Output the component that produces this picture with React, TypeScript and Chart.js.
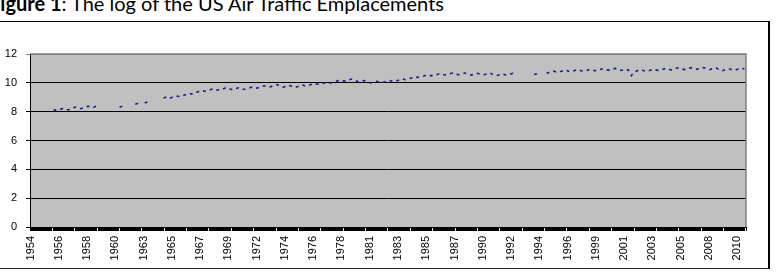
import React, { useEffect, useRef } from 'react';
import { Chart, registerables } from 'chart.js';

Chart.register(...registerables);

// ---- data ----
const START_YEAR = 1954;
const MONTH_COUNT = 684; // Jan 1954 .. Dec 2010, one category per month
const LABEL_EVERY = 27; // a year label every 27 months

const tickYears = [
  '1954', '1956', '1958', '1960', '1963', '1965', '1967', '1969', '1972',
  '1974', '1976', '1978', '1981', '1983', '1985', '1987', '1990', '1992',
  '1994', '1996', '1999', '2001', '2003', '2005', '2008', '2010',
];

const yMin = 0;
const yMax = 12;
const yStep = 2;

// log of US air traffic enplanements, quarterly (Q1..Q4)
const quarterlyLog: (number | null)[] = [
  null, null, null, null, // 1954
  null, null, null, 8.15, // 1955
  8.08, 8.15, 8.22, 8.12, // 1956
  8.15, 8.25, 8.32, 8.22, // 1957
  8.22, 8.3, 8.38, 8.28, // 1958
  8.32, 8.42, null, null, // 1959
  null, null, null, null, // 1960
  8.3, 8.38, null, null, // 1961
  null, 8.52, 8.6, null, // 1962
  8.6, 8.68, null, null, // 1963
  null, null, 8.95, 9.02, // 1964
  8.92, 9.02, 9.1, 9.05, // 1965
  9.1, 9.18, 9.28, 9.22, // 1966
  9.3, 9.38, 9.47, 9.42, // 1967
  9.45, 9.53, 9.6, 9.5, // 1968
  9.5, 9.58, 9.68, 9.6, // 1969
  9.52, 9.6, 9.66, 9.55, // 1970
  9.55, 9.62, 9.7, 9.62, // 1971
  9.65, 9.72, 9.8, 9.74, // 1972
  9.72, 9.8, 9.88, 9.8, // 1973
  9.7, 9.76, 9.84, 9.74, // 1974
  9.68, 9.76, 9.86, 9.8, // 1975
  9.8, 9.88, 9.96, 9.9, // 1976
  9.92, 9.98, 10.06, 10.0, // 1977
  10.02, 10.1, 10.2, 10.15, // 1978
  10.12, 10.2, 10.26, 10.16, // 1979
  10.08, 10.12, 10.16, 10.04, // 1980
  10.0, 10.06, 10.1, 10.02, // 1981
  10.04, 10.1, 10.16, 10.1, // 1982
  10.12, 10.2, 10.28, 10.22, // 1983
  10.26, 10.34, 10.44, 10.38, // 1984
  10.4, 10.48, 10.56, 10.5, // 1985
  10.5, 10.56, 10.64, 10.56, // 1986
  10.56, 10.62, 10.68, 10.6, // 1987
  10.56, 10.62, 10.68, 10.6, // 1988
  10.54, 10.6, 10.66, 10.58, // 1989
  10.56, 10.62, 10.68, 10.56, // 1990
  10.5, 10.56, 10.62, 10.54, // 1991
  10.56, 10.64, 10.72, null, // 1992
  null, null, null, null, // 1993
  10.58, 10.64, null, null, // 1994
  10.66, 10.74, 10.82, 10.76, // 1995
  10.74, 10.82, 10.9, 10.8, // 1996
  10.78, 10.86, 10.92, 10.84, // 1997
  10.8, 10.88, 10.94, 10.86, // 1998
  10.84, 10.92, 10.98, 10.9, // 1999
  10.88, 10.96, 11.0, 10.92, // 2000
  10.86, 10.94, 10.9, 10.5, // 2001
  10.76, 10.86, 10.92, 10.84, // 2002
  10.8, 10.88, 10.94, 10.88, // 2003
  10.86, 10.94, 11.0, 10.92, // 2004
  10.9, 10.98, 11.04, 10.96, // 2005
  10.92, 11.0, 11.05, 10.96, // 2006
  10.94, 11.02, 11.06, 10.98, // 2007
  10.92, 11.0, 11.04, 10.9, // 2008
  10.84, 10.92, 10.98, 10.9, // 2009
  10.88, 10.96, 11.02, 10.96, // 2010
];

const monthLabels = Array.from(
  { length: MONTH_COUNT },
  (_, i) => `${START_YEAR + Math.floor(i / 12)}-${String((i % 12) + 1).padStart(2, '0')}`
);

// each quarterly value sits on the middle month of its quarter
const points = quarterlyLog.map((v, q) => ({ x: monthLabels[q * 3 + 1], y: v }));

const AXIS_FONT = { family: "'Liberation Sans', Arial, sans-serif", size: 11 };

export default function App() {
  const ref = useRef<HTMLCanvasElement>(null);

  useEffect(() => {
    if (!ref.current) return;
    const plotFrame = {
      id: 'plotFrame',
      beforeDraw(chart: any) {
        const { ctx, chartArea: a } = chart;
        ctx.save();
        ctx.fillStyle = '#C0C0C0';
        ctx.fillRect(a.left, a.top, a.right - a.left, a.bottom - a.top);
        ctx.restore();
      },
      afterDraw(chart: any) {
        const { ctx, chartArea: a } = chart;
        ctx.save();
        ctx.strokeStyle = '#808080';
        ctx.lineWidth = 1.5;
        ctx.beginPath();
        ctx.moveTo(a.left, a.top);
        ctx.lineTo(a.right, a.top);
        ctx.lineTo(a.right, a.bottom);
        ctx.stroke();
        ctx.restore();
      },
    };

    const chart = new Chart(ref.current, {
      type: 'line',
      data: {
        labels: monthLabels,
        datasets: [
          {
            data: points as any,
            borderColor: '#1c1c84',
            borderWidth: 1.6,
            borderDash: [3, 4],
            pointRadius: 0,
            fill: false,
            tension: 0,
          },
        ],
      },
      options: {
        responsive: false,
        maintainAspectRatio: false,
        animation: false,
        layout: { padding: { left: 0, right: 20, top: 32, bottom: 0 } },
        plugins: {
          legend: { display: false },
          tooltip: { enabled: false },
          title: { display: false },
        },
        scales: {
          x: {
            type: 'category',
            offset: true,
            grid: {
              display: true,
              drawOnChartArea: false,
              drawTicks: true,
              tickLength: 4,
              color: '#000',
              lineWidth: 1,
              offset: true,
            },
            border: { display: true, color: '#000', width: 1 },
            ticks: {
              autoSkip: false,
              maxRotation: 90,
              minRotation: 90,
              padding: 5,
              color: '#000',
              font: AXIS_FONT,
              callback: (_v: any, i: number) =>
                i % LABEL_EVERY === 0 ? tickYears[i / LABEL_EVERY] ?? '' : '',
            },
            afterFit: (s: any) => {
              s.height = 41;
            },
          },
          y: {
            min: yMin,
            max: yMax,
            ticks: { stepSize: yStep, padding: 9, color: '#000', font: AXIS_FONT },
            grid: {
              color: (c: any) => (c.tick && c.tick.value === yMax ? '#808080' : '#000'),
              lineWidth: 1,
              tickLength: 4,
              drawTicks: true,
            },
            border: { display: true, color: '#000', width: 1 },
            afterFit: (s: any) => {
              s.width = 30;
            },
          },
        },
      },
      plugins: [plotFrame],
    });
    return () => chart.destroy();
  }, []);

  return (
    <div
      style={{
        position: 'fixed',
        left: 0,
        top: 0,
        width: 779,
        height: 272,
        overflow: 'hidden',
        background: '#fff',
      }}
    >
      <div
        style={{
          position: 'absolute',
          left: -11,
          top: -7,
          fontFamily: "Lato, 'Open Sans', sans-serif",
          fontSize: 20,
          lineHeight: '20px',
          whiteSpace: 'nowrap',
          color: '#000',
        }}
      >
        <b>Figure 1</b>: The log of the US Air Traffic Emplacements
      </div>
      <div
        style={{
          position: 'absolute',
          left: -5,
          top: 21,
          width: 775,
          height: 248,
          boxSizing: 'border-box',
          borderTop: '1px solid #000',
          borderRight: '2px solid #000',
          borderBottom: '1px solid #222',
        }}
      />
      <canvas
        ref={ref}
        width={766}
        height={246}
        style={{ position: 'absolute', left: 0, top: 22 }}
      />
    </div>
  );
}
